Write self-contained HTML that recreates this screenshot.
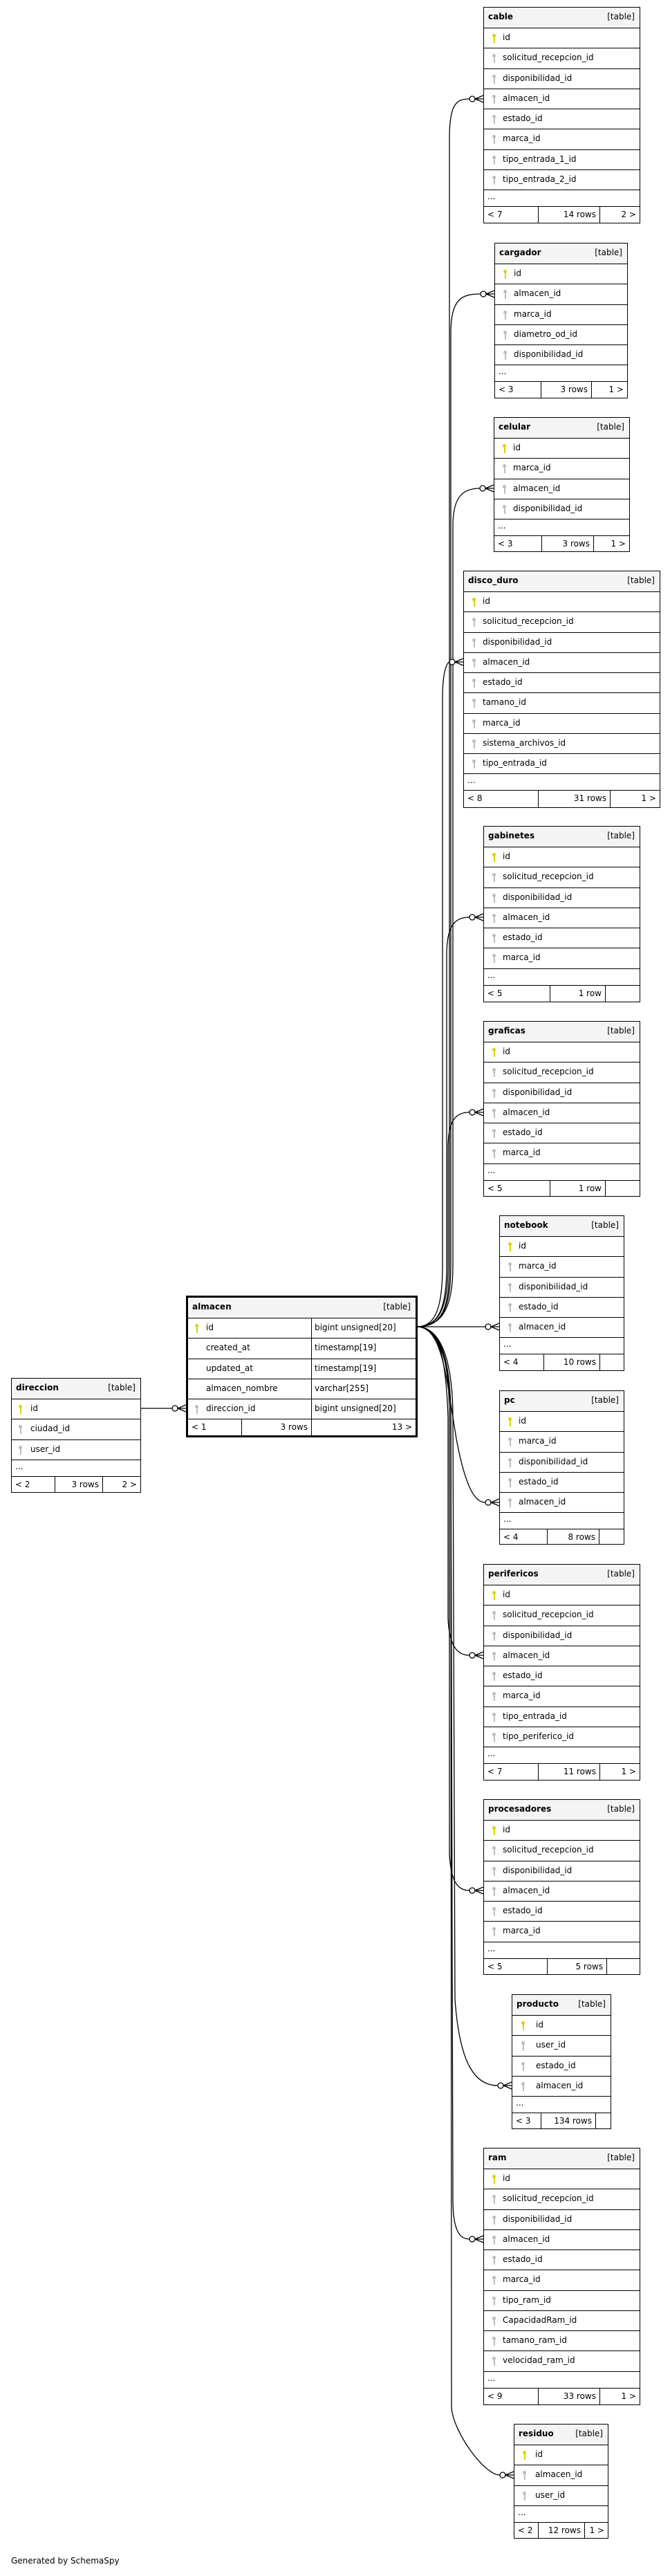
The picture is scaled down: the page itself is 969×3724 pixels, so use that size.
<!DOCTYPE html>
<html><head><meta charset="utf-8">
<style>
*{box-sizing:border-box;margin:0;padding:0}
body{width:969px;height:3724px;background:#fff;position:relative;overflow:hidden;font-family:"DejaVu Sans","Liberation Sans",sans-serif;font-size:12px;color:#000}
.t{position:absolute;border:1px solid #000;background:#fff;display:flex;flex-direction:column}
.h{height:30px;flex:none;background:#f4f4f4;border-bottom:1px solid #000;display:flex;justify-content:space-between;padding:0 7px 0 6px;line-height:26px}
.h b{font-weight:bold}
.r{height:29.25px;flex:none;border-bottom:1px solid #000;position:relative;line-height:27px;padding-left:27px;white-space:nowrap}
.d{height:24px;flex:none;border-bottom:1px solid #000;line-height:18px;padding-left:5px}
.f{flex:1;display:flex;line-height:22px}
.f span{border-right:1px solid #000;padding:0 5px;white-space:nowrap}
.f span:last-child{border-right:none;flex:1;text-align:right}
.f span:nth-child(2){text-align:right}
.k{position:absolute;left:12px;top:8px;width:5px;height:13px}
.k:before{content:"";position:absolute;left:0;top:0;width:5px;height:5px;border-radius:50%;background:currentColor}
.k:after{content:"";position:absolute;left:1.5px;top:4px;width:2px;height:9px;background:currentColor}
.p{color:#d6d600}.g{color:#bdbdbd}
.a{border:3px solid #000}
.a .r{padding-left:0;display:flex}
.a .r .c1{width:179px;padding-left:26px;border-right:1px solid #000;height:100%}
.a .r .c2{padding-left:4px}
svg{position:absolute;left:0;top:0}
</style></head><body>

<svg width="969" height="3724" viewBox="0 0 969 3724" fill="none" stroke="#000" stroke-width="1.3">
<path d="M603,1918 C640,1918 650,1890 650,1830 L650,200 C650,150 660,143 679,143"/>
<path d="M603,1918 C640,1918 652,1890 652,1830 L652,480 C652,430 670,425 695,425"/>
<path d="M603,1918 C640,1918 655,1890 655,1830 L655,760 C655,715 672,706 694,706"/>
<path d="M603,1918 C630,1918 640,1890 640,1830 L640,1010 C640,965 648,957 650,957"/>
<path d="M603,1918 C635,1918 646,1890 646,1830 L646,1380 C646,1335 660,1326 679,1326"/>
<path d="M603,1918 C635,1918 648,1890 648,1830 L648,1660 C648,1618 660,1608 679,1608"/>
<path d="M603,1918 L702,1918"/>
<path d="M603,1918 C640,1918 645,1990 660,2080 C675,2160 690,2172 702,2172"/>
<path d="M603,1918 C635,1918 645,1960 648,2050 L648,2340 C650,2385 665,2393 679,2393"/>
<path d="M603,1918 C635,1918 650,1960 650,2050 L650,2680 C652,2725 665,2733 679,2733"/>
<path d="M603,1918 C635,1918 655,1960 655,2050 L658,2890 C665,2990 690,3015 720,3015"/>
<path d="M603,1918 C635,1918 652,1960 652,2050 L655,3180 C655,3225 665,3237 679,3237"/>
<path d="M603,1918 C630,1918 652,1960 652,2050 L653,3480 C655,3515 700,3578 723,3578"/>
<path d="M203,2036 L249,2036"/>
<g fill="#fff">
<circle cx="683" cy="143" r="4"/><circle cx="699" cy="425" r="4"/><circle cx="698" cy="706" r="4"/><circle cx="654" cy="957" r="4"/>
<circle cx="683" cy="1326" r="4"/><circle cx="683" cy="1608" r="4"/><circle cx="706" cy="1918" r="4"/><circle cx="706" cy="2172" r="4"/>
<circle cx="683" cy="2393" r="4"/><circle cx="683" cy="2733" r="4"/><circle cx="724" cy="3015" r="4"/><circle cx="683" cy="3237" r="4"/>
<circle cx="727" cy="3578" r="4"/><circle cx="253" cy="2036" r="4"/>
</g>
<path d="M687,143 L699,138 M687,143 L699,143 M687,143 L699,148"/>
<path d="M703,425 L715,420 M703,425 L715,425 M703,425 L715,430"/>
<path d="M702,706 L714,701 M702,706 L714,706 M702,706 L714,711"/>
<path d="M658,957 L670,952 M658,957 L670,957 M658,957 L670,962"/>
<path d="M687,1326 L699,1321 M687,1326 L699,1326 M687,1326 L699,1331"/>
<path d="M687,1608 L699,1603 M687,1608 L699,1608 M687,1608 L699,1613"/>
<path d="M710,1918 L722,1913 M710,1918 L722,1918 M710,1918 L722,1923"/>
<path d="M710,2172 L722,2167 M710,2172 L722,2172 M710,2172 L722,2177"/>
<path d="M687,2393 L699,2388 M687,2393 L699,2393 M687,2393 L699,2398"/>
<path d="M687,2733 L699,2728 M687,2733 L699,2733 M687,2733 L699,2738"/>
<path d="M728,3015 L740,3010 M728,3015 L740,3015 M728,3015 L740,3020"/>
<path d="M687,3237 L699,3232 M687,3237 L699,3237 M687,3237 L699,3242"/>
<path d="M731,3578 L743,3573 M731,3578 L743,3578 M731,3578 L743,3583"/>
<path d="M257,2036 L269,2031 M257,2036 L269,2036 M257,2036 L269,2041"/>
</svg>

<!-- cable -->
<div class="t" style="left:699px;top:10px;width:227px;height:313px">
<div class="h"><b>cable</b><span>[table]</span></div>
<div class="r"><i class="k p"></i>id</div>
<div class="r"><i class="k g"></i>solicitud_recepcion_id</div>
<div class="r"><i class="k g"></i>disponibilidad_id</div>
<div class="r"><i class="k g"></i>almacen_id</div>
<div class="r"><i class="k g"></i>estado_id</div>
<div class="r"><i class="k g"></i>marca_id</div>
<div class="r"><i class="k g"></i>tipo_entrada_1_id</div>
<div class="r"><i class="k g"></i>tipo_entrada_2_id</div>
<div class="d">...</div>
<div class="f"><span style="width:79px">&lt; 7</span><span style="width:89px">14 rows</span><span>2 &gt;</span></div>
</div>

<!-- cargador -->
<div class="t" style="left:715px;top:351px;width:193px;height:225px">
<div class="h"><b>cargador</b><span>[table]</span></div>
<div class="r"><i class="k p"></i>id</div>
<div class="r"><i class="k g"></i>almacen_id</div>
<div class="r"><i class="k g"></i>marca_id</div>
<div class="r"><i class="k g"></i>diametro_od_id</div>
<div class="r"><i class="k g"></i>disponibilidad_id</div>
<div class="d">...</div>
<div class="f"><span style="width:67px">&lt; 3</span><span style="width:73px">3 rows</span><span>1 &gt;</span></div>
</div>

<!-- celular -->
<div class="t" style="left:714px;top:603px;width:197px;height:195px">
<div class="h"><b>celular</b><span>[table]</span></div>
<div class="r"><i class="k p"></i>id</div>
<div class="r"><i class="k g"></i>marca_id</div>
<div class="r"><i class="k g"></i>almacen_id</div>
<div class="r"><i class="k g"></i>disponibilidad_id</div>
<div class="d">...</div>
<div class="f"><span style="width:69px">&lt; 3</span><span style="width:75px">3 rows</span><span>1 &gt;</span></div>
</div>

<!-- disco_duro -->
<div class="t" style="left:670px;top:825px;width:285px;height:343px">
<div class="h"><b>disco_duro</b><span>[table]</span></div>
<div class="r"><i class="k p"></i>id</div>
<div class="r"><i class="k g"></i>solicitud_recepcion_id</div>
<div class="r"><i class="k g"></i>disponibilidad_id</div>
<div class="r"><i class="k g"></i>almacen_id</div>
<div class="r"><i class="k g"></i>estado_id</div>
<div class="r"><i class="k g"></i>tamano_id</div>
<div class="r"><i class="k g"></i>marca_id</div>
<div class="r"><i class="k g"></i>sistema_archivos_id</div>
<div class="r"><i class="k g"></i>tipo_entrada_id</div>
<div class="d">...</div>
<div class="f"><span style="width:108px">&lt; 8</span><span style="width:104px">31 rows</span><span>1 &gt;</span></div>
</div>

<!-- gabinetes -->
<div class="t" style="left:699px;top:1194px;width:227px;height:255px">
<div class="h"><b>gabinetes</b><span>[table]</span></div>
<div class="r"><i class="k p"></i>id</div>
<div class="r"><i class="k g"></i>solicitud_recepcion_id</div>
<div class="r"><i class="k g"></i>disponibilidad_id</div>
<div class="r"><i class="k g"></i>almacen_id</div>
<div class="r"><i class="k g"></i>estado_id</div>
<div class="r"><i class="k g"></i>marca_id</div>
<div class="d">...</div>
<div class="f"><span style="width:96px">&lt; 5</span><span style="width:80px">1 row</span><span></span></div>
</div>

<!-- graficas -->
<div class="t" style="left:699px;top:1476px;width:227px;height:254px">
<div class="h"><b>graficas</b><span>[table]</span></div>
<div class="r"><i class="k p"></i>id</div>
<div class="r"><i class="k g"></i>solicitud_recepcion_id</div>
<div class="r"><i class="k g"></i>disponibilidad_id</div>
<div class="r"><i class="k g"></i>almacen_id</div>
<div class="r"><i class="k g"></i>estado_id</div>
<div class="r"><i class="k g"></i>marca_id</div>
<div class="d">...</div>
<div class="f"><span style="width:96px">&lt; 5</span><span style="width:80px">1 row</span><span></span></div>
</div>

<!-- notebook -->
<div class="t" style="left:722px;top:1757px;width:181px;height:225px">
<div class="h"><b>notebook</b><span>[table]</span></div>
<div class="r"><i class="k p"></i>id</div>
<div class="r"><i class="k g"></i>marca_id</div>
<div class="r"><i class="k g"></i>disponibilidad_id</div>
<div class="r"><i class="k g"></i>estado_id</div>
<div class="r"><i class="k g"></i>almacen_id</div>
<div class="d">...</div>
<div class="f"><span style="width:64px">&lt; 4</span><span style="width:81px">10 rows</span><span></span></div>
</div>

<!-- pc -->
<div class="t" style="left:722px;top:2010px;width:181px;height:223px">
<div class="h"><b>pc</b><span>[table]</span></div>
<div class="r"><i class="k p"></i>id</div>
<div class="r"><i class="k g"></i>marca_id</div>
<div class="r"><i class="k g"></i>disponibilidad_id</div>
<div class="r"><i class="k g"></i>estado_id</div>
<div class="r"><i class="k g"></i>almacen_id</div>
<div class="d">...</div>
<div class="f"><span style="width:69px">&lt; 4</span><span style="width:75px">8 rows</span><span></span></div>
</div>

<!-- perifericos -->
<div class="t" style="left:699px;top:2261px;width:227px;height:313px">
<div class="h"><b>perifericos</b><span>[table]</span></div>
<div class="r"><i class="k p"></i>id</div>
<div class="r"><i class="k g"></i>solicitud_recepcion_id</div>
<div class="r"><i class="k g"></i>disponibilidad_id</div>
<div class="r"><i class="k g"></i>almacen_id</div>
<div class="r"><i class="k g"></i>estado_id</div>
<div class="r"><i class="k g"></i>marca_id</div>
<div class="r"><i class="k g"></i>tipo_entrada_id</div>
<div class="r"><i class="k g"></i>tipo_periferico_id</div>
<div class="d">...</div>
<div class="f"><span style="width:79px">&lt; 7</span><span style="width:89px">11 rows</span><span>1 &gt;</span></div>
</div>

<!-- procesadores -->
<div class="t" style="left:699px;top:2601px;width:227px;height:254px">
<div class="h"><b>procesadores</b><span>[table]</span></div>
<div class="r"><i class="k p"></i>id</div>
<div class="r"><i class="k g"></i>solicitud_recepcion_id</div>
<div class="r"><i class="k g"></i>disponibilidad_id</div>
<div class="r"><i class="k g"></i>almacen_id</div>
<div class="r"><i class="k g"></i>estado_id</div>
<div class="r"><i class="k g"></i>marca_id</div>
<div class="d">...</div>
<div class="f"><span style="width:92px">&lt; 5</span><span style="width:86px">5 rows</span><span></span></div>
</div>

<!-- producto -->
<div class="t" style="left:740px;top:2883px;width:144px;height:195px">
<div class="h"><b>producto</b><span>[table]</span></div>
<div class="r" style="padding-left:34px"><i class="k p" style="left:13px"></i>id</div>
<div class="r" style="padding-left:34px"><i class="k g" style="left:13px"></i>user_id</div>
<div class="r" style="padding-left:34px"><i class="k g" style="left:13px"></i>estado_id</div>
<div class="r" style="padding-left:34px"><i class="k g" style="left:13px"></i>almacen_id</div>
<div class="d">...</div>
<div class="f"><span style="width:42px">&lt; 3</span><span style="width:79px">134 rows</span><span></span></div>
</div>

<!-- ram -->
<div class="t" style="left:699px;top:3105px;width:227px;height:372px">
<div class="h"><b>ram</b><span>[table]</span></div>
<div class="r"><i class="k p"></i>id</div>
<div class="r"><i class="k g"></i>solicitud_recepcion_id</div>
<div class="r"><i class="k g"></i>disponibilidad_id</div>
<div class="r"><i class="k g"></i>almacen_id</div>
<div class="r"><i class="k g"></i>estado_id</div>
<div class="r"><i class="k g"></i>marca_id</div>
<div class="r"><i class="k g"></i>tipo_ram_id</div>
<div class="r"><i class="k g"></i>CapacidadRam_id</div>
<div class="r"><i class="k g"></i>tamano_ram_id</div>
<div class="r"><i class="k g"></i>velocidad_ram_id</div>
<div class="d">...</div>
<div class="f"><span style="width:79px">&lt; 9</span><span style="width:89px">33 rows</span><span>1 &gt;</span></div>
</div>

<!-- residuo -->
<div class="t" style="left:743px;top:3504px;width:137px;height:166px">
<div class="h"><b>residuo</b><span>[table]</span></div>
<div class="r" style="padding-left:30px"><i class="k p" style="left:12px"></i>id</div>
<div class="r" style="padding-left:30px"><i class="k g" style="left:12px"></i>almacen_id</div>
<div class="r" style="padding-left:30px"><i class="k g" style="left:12px"></i>user_id</div>
<div class="d">...</div>
<div class="f"><span style="width:35px">&lt; 2</span><span style="width:67px">12 rows</span><span>1 &gt;</span></div>
</div>

<!-- direccion -->
<div class="t" style="left:16px;top:1992px;width:188px;height:166px">
<div class="h"><b>direccion</b><span>[table]</span></div>
<div class="r"><i class="k p" style="left:10px"></i>id</div>
<div class="r"><i class="k g" style="left:10px"></i>ciudad_id</div>
<div class="r"><i class="k g" style="left:10px"></i>user_id</div>
<div class="d">...</div>
<div class="f"><span style="width:63px">&lt; 2</span><span style="width:69px">3 rows</span><span>2 &gt;</span></div>
</div>

<!-- almacen -->
<div class="t a" style="left:269px;top:1873px;width:335px;height:205px">
<div class="h" style="height:30px"><b>almacen</b><span>[table]</span></div>
<div class="r"><div class="c1"><i class="k p" style="left:10px"></i>id</div><div class="c2">bigint unsigned[20]</div></div>
<div class="r"><div class="c1">created_at</div><div class="c2">timestamp[19]</div></div>
<div class="r"><div class="c1">updated_at</div><div class="c2">timestamp[19]</div></div>
<div class="r"><div class="c1">almacen_nombre</div><div class="c2">varchar[255]</div></div>
<div class="r"><div class="c1"><i class="k g" style="left:10px"></i>direccion_id</div><div class="c2">bigint unsigned[20]</div></div>
<div class="f"><span style="width:78px">&lt; 1</span><span style="width:101px">3 rows</span><span>13 &gt;</span></div>
</div>

<div style="position:absolute;left:16px;top:3695px;font-size:12px">Generated by SchemaSpy</div>
</body></html>
